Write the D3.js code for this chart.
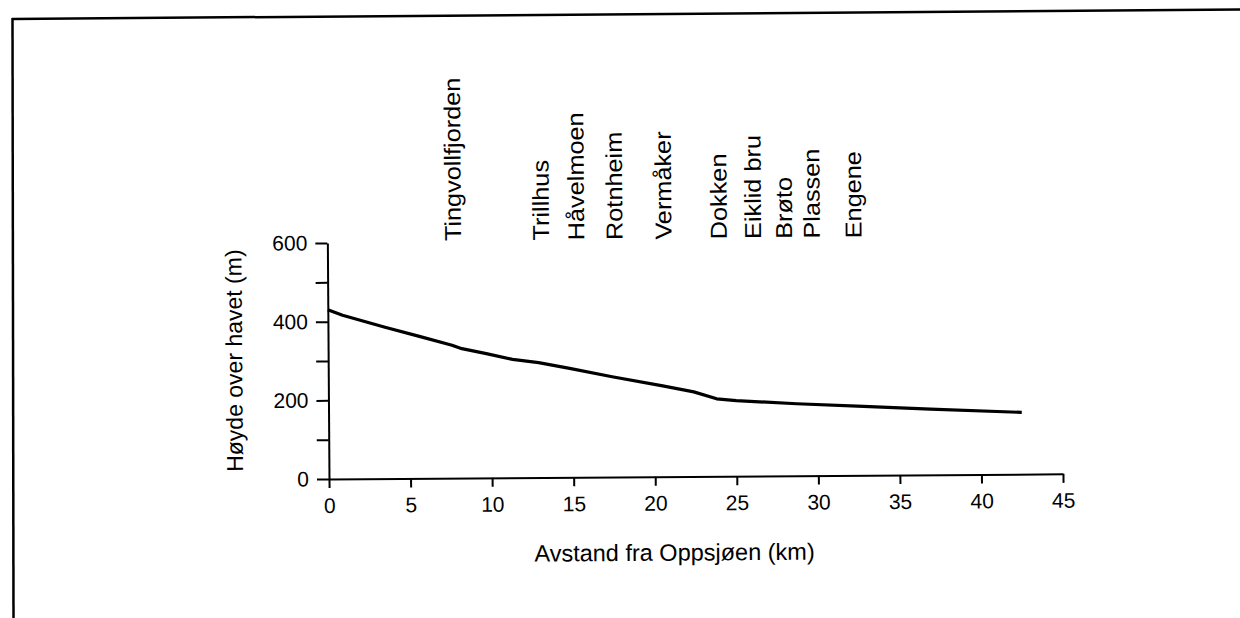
<!DOCTYPE html>
<html>
<head>
<meta charset="utf-8">
<script src="https://cdn.jsdelivr.net/npm/d3@7"></script>
<style>
  body { margin: 0; background: #fff; }
  text { font-family: "Liberation Sans", Arial, Helvetica, sans-serif; fill: #000; }
  .axis path, .axis line { stroke: #000; stroke-width: 2px; }
  .axis text { font-size: 21px; }
</style>
</head>
<body>
<div id="chart"></div>
<script>
// profile of the river, km from Oppsjøen vs metres above sea level
var distKm = [0, 0.9, 3.5, 5.6, 7.6, 8.2, 9.7, 11.3, 12.9, 14.8, 17.4, 20.5, 22.4, 23.8, 25.0, 28.7, 32.8, 36.9, 42.5];
var heightM = [430, 416, 385, 361, 338, 329, 316, 301, 292, 277, 255, 231, 215, 197, 192, 183, 175, 167, 157];

var placeNames = ["Tingvollfjorden", "Trillhus", "Håvelmoen", "Rotnheim", "Vermåker", "Dokken", "Eiklid bru", "Brøto", "Plassen", "Engene"];
var placeKm = [7.7, 13.1, 15.25, 17.6, 20.6, 24.0, 26.1, 28.0, 29.7, 32.25];

var xTicks = [0, 5, 10, 15, 20, 25, 30, 35, 40, 45];
var yTicks = [0, 100, 200, 300, 400, 500, 600];
var yTickLabels = [0, 200, 400, 600];

var width = 1240, height = 618;
var x0 = 329, y0 = 479;

var svg = d3.select("#chart")
    .append("svg")
    .attr("width", width)
    .attr("height", height);

// scanned page frame
svg.append("line")
    .attr("x1", 12).attr("y1", 19)
    .attr("x2", 1240).attr("y2", 9.5)
    .attr("stroke", "#000").attr("stroke-width", 2.5);
svg.append("line")
    .attr("x1", 12.5).attr("y1", 18)
    .attr("x2", 13.5).attr("y2", 618)
    .attr("stroke", "#000").attr("stroke-width", 2.5);

// whole figure sits slightly tilted on the scan
var g = svg.append("g")
    .attr("transform", "rotate(-0.4," + x0 + "," + y0 + ")");

var x = d3.scaleLinear().domain([0, 45]).range([x0, 1063]);
var y = d3.scaleLinear().domain([0, 600]).range([y0, 243]);

g.append("g")
    .attr("class", "axis")
    .attr("transform", "translate(0," + y0 + ")")
    .call(d3.axisBottom(x).tickValues(xTicks).tickSize(9).tickPadding(10).tickSizeOuter(0))
    .call(function(a){ a.selectAll("text").attr("font-family", null).attr("font-size", null); });

g.append("g")
    .attr("class", "axis")
    .attr("transform", "translate(" + x0 + ",0)")
    .call(d3.axisLeft(y).tickValues(yTicks).tickSize(12).tickPadding(8).tickSizeOuter(0)
        .tickFormat(function(d){ return yTickLabels.indexOf(d) >= 0 ? d : ""; }))
    .call(function(a){ a.selectAll("text").attr("font-family", null).attr("font-size", null); });

var line = d3.line()
    .x(function(d, i){ return x(distKm[i]); })
    .y(function(d){ return y(d); });

g.append("path")
    .datum(heightM)
    .attr("d", line)
    .attr("fill", "none")
    .attr("stroke", "#000")
    .attr("stroke-width", 3.2)
    .attr("stroke-linejoin", "round");

// place names, written upwards above the plot (a bit stretched, as on the scan)
g.selectAll(".place")
    .data(placeNames)
    .enter().append("text")
    .attr("class", "place")
    .attr("transform", function(d, i){ return "translate(" + x(placeKm[i]) + "," + (y(600) - 1) + ") rotate(-90) scale(1.1,1)"; })
    .attr("dy", "0.35em")
    .attr("font-size", "23px")
    .text(function(d){ return d; });

g.append("text")
    .attr("x", 674)
    .attr("y", 563)
    .attr("text-anchor", "middle")
    .attr("font-size", "23.5px")
    .text("Avstand fra Oppsjøen (km)");

g.append("text")
    .attr("transform", "translate(243,360) rotate(-90)")
    .attr("text-anchor", "middle")
    .attr("font-size", "23px")
    .text("Høyde over havet (m)");
</script>
</body>
</html>
